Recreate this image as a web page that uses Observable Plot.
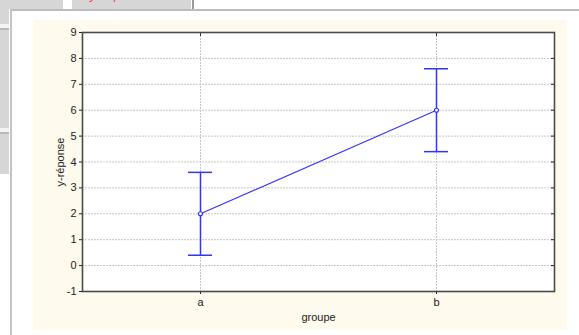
<!DOCTYPE html>
<html>
<head>
<meta charset="utf-8">
<script src="https://cdn.jsdelivr.net/npm/d3@7"></script>
<script src="https://cdn.jsdelivr.net/npm/@observablehq/plot@0.6"></script>
<style>
  html, body { margin: 0; padding: 0; background: #ffffff; width: 579px; height: 335px; overflow: hidden; position: relative; font-family: "Liberation Sans", Arial, sans-serif; }
  .abs { position: absolute; }
  #panel { position: absolute; left: 33px; top: 20px; width: 534px; height: 310px; background: #fffaee; }
  #panel svg { display: block; background: transparent; }
</style>
</head>
<body>
<!-- window decorations -->
<div class="abs" style="left:0;top:0;width:9px;height:174px;background:#d6d6d6"></div>
<div class="abs" style="left:0;top:24px;width:9px;height:4px;background:#f4f4f4"></div>
<div class="abs" style="left:0;top:28px;width:9px;height:2px;background:#b8b8b8"></div>
<div class="abs" style="left:0;top:128px;width:9px;height:4px;background:#f4f4f4"></div>
<div class="abs" style="left:0;top:132px;width:9px;height:2px;background:#b8b8b8"></div>
<div class="abs" style="left:0;top:0;width:63px;height:9px;background:#d6d6d6"></div>
<div class="abs" style="left:72px;top:0;width:119px;height:9px;background:#d6d6d6;overflow:hidden">
  <div class="abs" style="left:18px;top:-14px;color:#ff4a4a;font-style:italic;font-size:14px;white-space:nowrap">y-réponse</div>
</div>
<div class="abs" style="left:192px;top:0;width:2px;height:9px;background:#9a9a9a"></div>
<div class="abs" style="left:10px;top:9px;width:569px;height:2px;background:#bdbdbd"></div>
<div class="abs" style="left:10px;top:9px;width:2px;height:326px;background:#c4c4c4"></div>
<div id="panel"></div>
<script>
const groups = ["a", "b"];
const means = [2, 6];
const lower = [0.4, 4.4];
const upper = [3.6, 7.6];
const yTicks = [-1, 0, 1, 2, 3, 4, 5, 6, 7, 8, 9];
const xLabel = "groupe";
const yLabel = "y-réponse";

const data = groups.map((g, i) => ({g, m: means[i], lo: lower[i], hi: upper[i]}));
const blue = "#3333ff";
const fontStyle = {fontFamily: "'Liberation Sans', Arial, sans-serif", fontSize: "11px"};
const gridColor = "#c6c6c6";

const chart = Plot.plot({
  width: 534,
  height: 310,
  marginLeft: 49,
  marginRight: 13,
  marginTop: 12,
  marginBottom: 39,
  style: {...fontStyle, background: "transparent", color: "#222"},
  x: {type: "point", domain: groups, padding: 0.5},
  y: {domain: [-1, 9]},
  marks: [
    Plot.frame({fill: "#ffffff", stroke: null}),
    Plot.gridY(yTicks, {stroke: gridColor, strokeOpacity: 1, strokeDasharray: "2,1", strokeWidth: 1}),
    Plot.gridX(groups, {stroke: gridColor, strokeOpacity: 1, strokeDasharray: "2,1", strokeWidth: 1}),
    Plot.axisY(yTicks, {anchor: "left", tickSize: 3, tickPadding: 3, label: null, fontSize: 11, fill: "#222", tickFormat: d => String(d)}),
    Plot.axisY(yTicks, {anchor: "right", tickSize: 4, dx: -4, tickFormat: () => "", label: null, stroke: "#222"}),
    Plot.axisX(groups, {anchor: "bottom", tickSize: 3, tickPadding: 4, label: null, fontSize: 11, fill: "#222"}),
    Plot.axisX(groups, {anchor: "top", tickSize: 3, dy: 3, tickFormat: () => "", label: null, stroke: "#333"}),
    Plot.ruleX(data, {x: "g", y1: "lo", y2: "hi", stroke: blue, strokeWidth: 1.5}),
    Plot.ruleY(data, {y: "hi", x1: "g", x2: "g", stroke: blue, strokeWidth: 1.5, insetLeft: -12, insetRight: -12}),
    Plot.ruleY(data, {y: "lo", x1: "g", x2: "g", stroke: blue, strokeWidth: 1.5, insetLeft: -12, insetRight: -12}),
    Plot.line(data, {x: "g", y: "m", stroke: blue, strokeWidth: 1.1}),
    Plot.dot(data, {x: "g", y: "m", r: 2, fill: "#ffffff", stroke: blue, strokeWidth: 1.1}),
    Plot.frame({stroke: "#4a4a4a", strokeWidth: 1.6}),
    Plot.text([yLabel], {text: d => d, frameAnchor: "left", dx: -22, rotate: -90, textAnchor: "middle", fontSize: 11, fill: "#222"}),
    Plot.text([xLabel], {text: d => d, frameAnchor: "bottom", dy: 26, textAnchor: "middle", lineAnchor: "middle", fontSize: 11, fill: "#222"})
  ]
});
document.getElementById("panel").appendChild(chart);
</script>
</body>
</html>
